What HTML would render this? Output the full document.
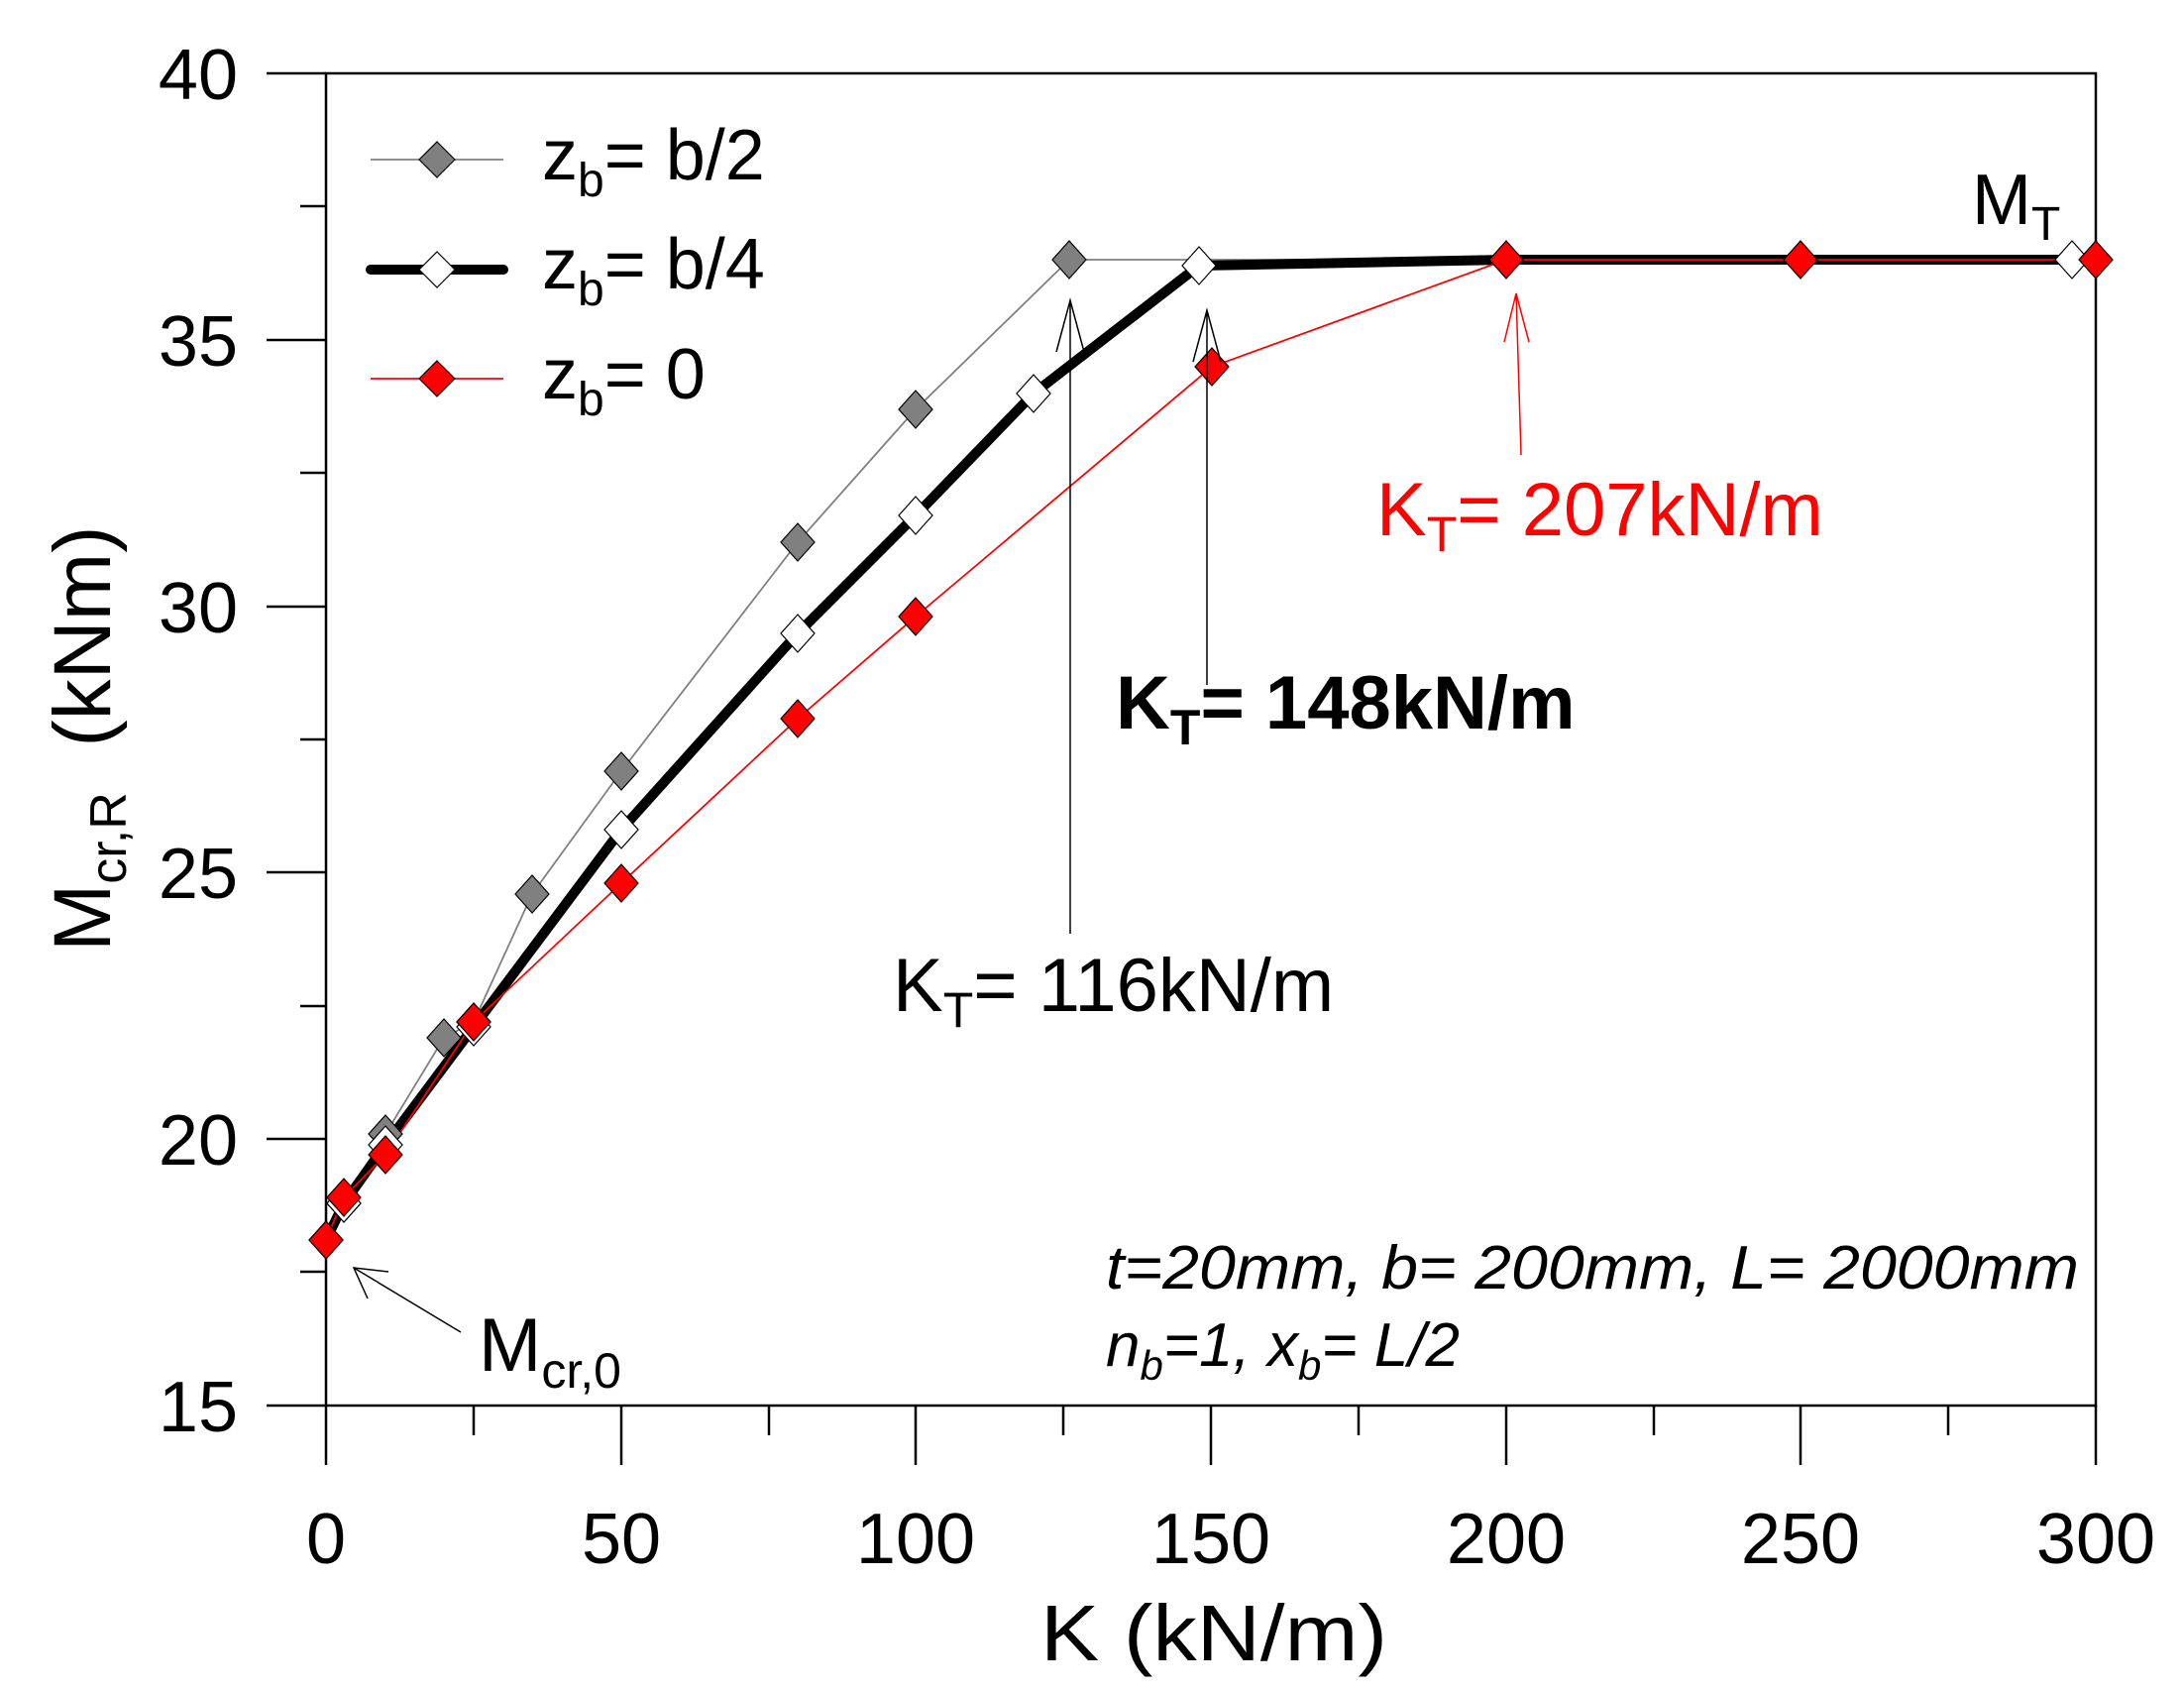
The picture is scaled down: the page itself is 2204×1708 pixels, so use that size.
<!DOCTYPE html>
<html><head><meta charset="utf-8"><style>html,body{margin:0;padding:0;background:#fff}svg{display:block}text{font-family:"Liberation Sans",Arial,sans-serif}</style></head>
<body>
<svg width="2204" height="1708" viewBox="0 0 2204 1708" xmlns="http://www.w3.org/2000/svg">
<g stroke="#000" stroke-width="2.5" fill="none">
<rect x="329" y="74" width="1786" height="1344"/>
<path d="M269 74H329M269 343H329M269 612H329M269 880H329M269 1149H329M269 1418H329"/>
<path d="M303 208H329M303 477H329M303 746H329M303 1015H329M303 1283H329"/>
<path d="M329 1418V1478M627 1418V1478M924 1418V1478M1222 1418V1478M1520 1418V1478M1817 1418V1478M2115 1418V1478"/>
<path d="M478 1418V1448M776 1418V1448M1073 1418V1448M1371 1418V1448M1669 1418V1448M1966 1418V1448"/>
</g>
<g font-size="72" text-anchor="end" fill="#000">
<text x="240" y="100">40</text><text x="240" y="369">35</text><text x="240" y="638">30</text><text x="240" y="906">25</text><text x="240" y="1175">20</text><text x="240" y="1444">15</text>
</g>
<g font-size="72" text-anchor="middle" fill="#000">
<text x="329" y="1577">0</text><text x="627" y="1577">50</text><text x="924" y="1577">100</text><text x="1222" y="1577">150</text><text x="1520" y="1577">200</text><text x="1817" y="1577">250</text><text x="2115" y="1577">300</text>
</g>
<text x="1050" y="1675" font-size="80" textLength="350" lengthAdjust="spacingAndGlyphs">K  (kN/m)</text>
<text transform="translate(111,960) rotate(-90)" font-size="82">M<tspan font-size="52" dy="16">cr,R</tspan><tspan dy="-16" xml:space="preserve">  (kNm)</tspan></text>

<polyline fill="none" stroke="#808080" stroke-width="1.8" points="329,1251 347,1214 389,1144 448,1047 478,1031 537,902 627,778 805,547 924,413 1079,262 1210,262 1520,262 1817,262 2091,262 2115,262"/>
<polyline fill="none" stroke="#000" stroke-width="10" stroke-linejoin="round" points="329,1251 347,1214 389,1155 478,1036 627,837 805,639 924,520 1043,397 1210,268 1520,262 1817,262 2091,262 2115,262"/>
<polyline fill="none" stroke="#f00" stroke-width="1.8" points="329,1251 347,1208 389,1165 478,1031 627,891 805,725 924,622 1223,370 1520,262 1817,262 2115,262"/>

<g stroke="#000" stroke-width="1.2">
<g fill="#808080">
<path d="M329 1232l17 19-17 19-17-19z"/><path d="M347 1195l17 19-17 19-17-19z"/><path d="M389 1125l17 19-17 19-17-19z"/><path d="M448 1028l17 19-17 19-17-19z"/><path d="M478 1012l17 19-17 19-17-19z"/><path d="M537 883l17 19-17 19-17-19z"/><path d="M627 759l17 19-17 19-17-19z"/><path d="M805 528l17 19-17 19-17-19z"/><path d="M924 394l17 19-17 19-17-19z"/><path d="M1079 243l17 19-17 19-17-19z"/>
</g>
<g fill="#fff">
<path d="M347 1195l17 19-17 19-17-19z"/><path d="M389 1136l17 19-17 19-17-19z"/><path d="M478 1017l17 19-17 19-17-19z"/><path d="M627 818l17 19-17 19-17-19z"/><path d="M805 620l17 19-17 19-17-19z"/><path d="M924 501l17 19-17 19-17-19z"/><path d="M1043 378l17 19-17 19-17-19z"/><path d="M1210 249l17 19-17 19-17-19z"/><path d="M2091 243l17 19-17 19-17-19z"/>
</g>
<g fill="#f00">
<path d="M329 1232l17 19-17 19-17-19z"/><path d="M347 1189l17 19-17 19-17-19z"/><path d="M389 1146l17 19-17 19-17-19z"/><path d="M478 1012l17 19-17 19-17-19z"/><path d="M627 872l17 19-17 19-17-19z"/><path d="M805 706l17 19-17 19-17-19z"/><path d="M924 603l17 19-17 19-17-19z"/><path d="M1223 351l17 19-17 19-17-19z"/><path d="M1520 243l17 19-17 19-17-19z"/><path d="M1817 243l17 19-17 19-17-19z"/><path d="M2115 243l17 19-17 19-17-19z"/>
</g>
</g>

<line x1="374" y1="161" x2="508" y2="161" stroke="#808080" stroke-width="1.8"/>
<path d="M441 143l18 18-18 18-18-18z" fill="#808080" stroke="#000" stroke-width="1.2"/>
<line x1="374" y1="272" x2="508" y2="272" stroke="#000" stroke-width="10" stroke-linecap="round"/>
<path d="M441 254l18 18-18 18-18-18z" fill="#fff" stroke="#000" stroke-width="1.2"/>
<line x1="374" y1="382" x2="508" y2="382" stroke="#f00" stroke-width="1.8"/>
<path d="M441 364l18 18-18 18-18-18z" fill="#f00" stroke="#000" stroke-width="1.2"/>
<g font-size="72" fill="#000">
<text x="547" y="181">z<tspan font-size="48" dy="17">b</tspan><tspan dy="-17">= b/2</tspan></text>
<text x="547" y="291">z<tspan font-size="48" dy="17">b</tspan><tspan dy="-17">= b/4</tspan></text>
<text x="547" y="402">z<tspan font-size="48" dy="17">b</tspan><tspan dy="-17">= 0</tspan></text>
</g>

<g fill="none" stroke-width="1.5">
<path d="M1080 942V303M1066 355L1080 303L1094 355" stroke="#000"/>
<path d="M1218 691V313M1204 365L1218 313L1232 365" stroke="#000"/>
<path d="M1535 459L1530 296M1518 345L1530 296L1543 345" stroke="#f00"/>
<path d="M465 1344L357 1279M371 1310L357 1279L392 1283" stroke="#000"/>
</g>
<text x="1990" y="226" font-size="72">M<tspan font-size="48" dy="16">T</tspan></text>
<text x="1389" y="540" font-size="76" fill="#f00">K<tspan font-size="50" dy="16">T</tspan><tspan dy="-16">= 207kN/m</tspan></text>
<text x="1126" y="735" font-size="76" font-weight="bold">K<tspan font-size="50" dy="16">T</tspan><tspan dy="-16">= 148kN/m</tspan></text>
<text x="901" y="1020" font-size="76">K<tspan font-size="50" dy="16">T</tspan><tspan dy="-16">= 116kN/m</tspan></text>
<text x="483" y="1383" font-size="76">M<tspan font-size="50" dy="17">cr,0</tspan></text>
<g font-size="62" font-style="italic">
<text x="1116" y="1300" textLength="982" lengthAdjust="spacingAndGlyphs">t=20mm, b= 200mm, L= 2000mm</text>
<text x="1116" y="1378">n<tspan font-size="42" dy="14">b</tspan><tspan dy="-14">=1, x</tspan><tspan font-size="42" dy="14">b</tspan><tspan dy="-14">= L/2</tspan></text>
</g>
</svg>
</body></html>
